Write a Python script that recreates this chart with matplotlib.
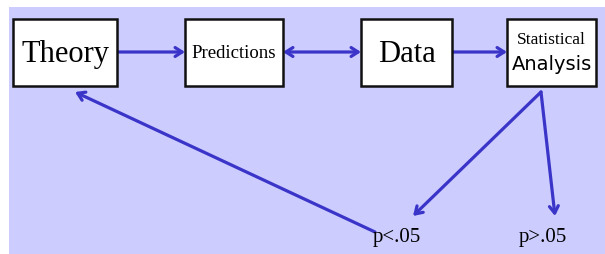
import matplotlib.pyplot as plt
from matplotlib.patches import Rectangle

# boxes in the flow
box_labels = ['Theory', 'Predictions', 'Data', 'Statistical\nAnalysis']
outcome_labels = ['p<.05', 'p>.05']

# layout in pixel coordinates (y goes down)
box_x = [(13, 117), (185, 283), (361, 452), (507, 596)]
box_y = (20, 87)
outcome_pos = [(397, 238), (543, 238)]

bg = '#ccccff'
blue = '#3a35c8'

fig = plt.figure(figsize=(6.05, 2.55), dpi=100)
ax = fig.add_axes([0, 0, 1, 1])
ax.set_xlim(0, 605)
ax.set_ylim(255, 0)
ax.axis('off')

ax.add_patch(Rectangle((9, 8), 600, 250, facecolor=bg, edgecolor='none'))

for (x0, x1) in box_x:
    ax.add_patch(Rectangle((x0, box_y[0]), x1 - x0, box_y[1] - box_y[0],
                           facecolor='white', edgecolor='#111111', lw=1.8, zorder=3))

ymid = (box_y[0] + box_y[1]) / 2
cx = [(a + b) / 2 for a, b in box_x]
ax.text(cx[0], ymid + 1, box_labels[0], ha='center', va='center',
        family='Liberation Serif', fontsize=22, zorder=4)
ax.text(cx[1], ymid, box_labels[1], ha='center', va='center',
        family='Liberation Serif', fontsize=13.5, zorder=4)
ax.text(cx[2], ymid + 1, box_labels[2], ha='center', va='center',
        family='Liberation Serif', fontsize=22, zorder=4)
top, bottom = box_labels[3].split('\n')
ax.text(cx[3], 40, top, ha='center', va='center',
        family='Liberation Serif', fontsize=12.5, zorder=4)
ax.text(cx[3], 65, bottom, ha='center', va='center',
        family='DejaVu Sans', fontsize=14, zorder=4)

for lab, (x, y) in zip(outcome_labels, outcome_pos):
    ax.text(x, y, lab, ha='center', va='center',
            family='Liberation Serif', fontsize=15, zorder=4)


def arrow(p0, p1, style='->'):
    ax.annotate('', xy=p1, xytext=p0,
                arrowprops=dict(arrowstyle=style + ',head_length=0.5,head_width=0.32',
                                color=blue, lw=2.3, shrinkA=0, shrinkB=0),
                zorder=2)


arrow((box_x[0][1], 53), (box_x[1][0], 53))
arrow((box_x[1][1], 53), (box_x[2][0], 53), '<->')
arrow((box_x[2][1], 53), (box_x[3][0], 53))
arrow((541, 93), (413, 217))
arrow((541, 93), (555, 217))
arrow((375, 233), (75, 93))

fig.savefig('out.png')
